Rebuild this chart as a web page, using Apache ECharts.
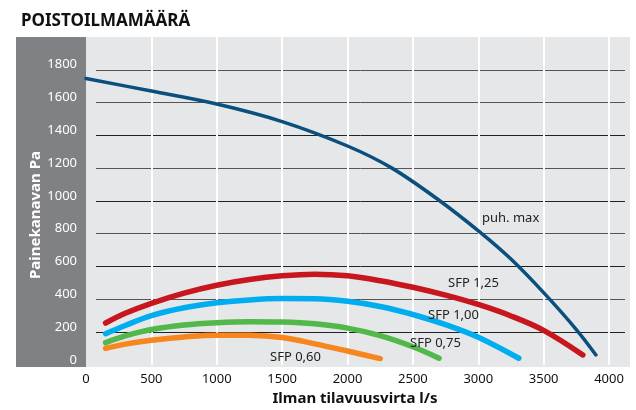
<!DOCTYPE html>
<html>
<head>
<meta charset="utf-8">
<script src="https://cdn.jsdelivr.net/npm/echarts@6/dist/echarts.min.js"></script>
<style>html,body{margin:0;padding:0;background:#fff}#c{width:636px;height:410px}</style>
</head>
<body>
<div id="c"></div>
<script>
const xTicks = [0, 500, 1000, 1500, 2000, 2500, 3000, 3500, 4000];
const yTicks = [0, 200, 400, 600, 800, 1000, 1200, 1400, 1600, 1800];
const puhMax = [[0,1747],[500,1670],[1000,1591],[1500,1484],[2000,1335],[2340,1200],[2700,1004],[3020,805],[3250,645],[3500,440],[3750,215],[3900,60]];
const sfp125 = [[150,255],[300,314],[500,375],[750,437],[1000,485],[1250,520],[1500,543],[1750,553],[2000,543],[2250,513],[2500,473],[2750,425],[3000,368],[3250,298],[3500,210],[3800,60]];
const sfp100 = [[150,190],[300,240],[500,300],[750,348],[1000,378],[1250,396],[1500,404],[1750,403],[2000,388],[2250,356],[2500,307],[2750,245],[3000,168],[3310,40]];
const sfp075 = [[150,135],[300,176],[500,215],[750,243],[1000,257],[1250,263],[1500,261],[1750,250],[2000,224],[2250,178],[2500,110],[2700,40]];
const sfp060 = [[150,100],[300,126],[500,150],[750,170],[1000,181],[1250,180],[1500,166],[1750,128],[2000,84],[2250,38]];
const seriesNames = ['SFP 0,60','SFP 0,75','SFP 1,00','SFP 1,25','puh. max'];

const FONT = 'Noto Sans';
const chart = echarts.init(document.getElementById('c'), null, {renderer:'canvas'});
const hLineColors = ['transparent','#222','#555','#222','#555','#222','#555','#222','#555','#555','transparent'];
const vLineColors = ['transparent','#fff','#fff','#fff','#fff','#fff','#fff','#fff','#fff'];
function line(name, data, color, width, z){
  return {type:'line', name, data, smooth:0.35, showSymbol:false, symbol:'none', xAxisIndex:0, yAxisIndex:0, z,
    lineStyle:{color, width, cap:'round', join:'round'}};
}
chart.setOption({
  animation:false,
  textStyle:{fontFamily:FONT},
  title:{text:'POISTOILMAMÄÄRÄ', left:16, top:8, textStyle:{fontFamily:FONT, fontSize:17, fontWeight:'bold', color:'#111'}},
  graphic:[
    {type:'rect', z:-10, shape:{x:16, y:37, width:70, height:330}, style:{fill:'#808184'}},
    {type:'rect', z:-10, shape:{x:86, y:37, width:544, height:330}, style:{fill:'#e6e7e8'}},
    {type:'text', z:10, x:36, y:215, rotation:Math.PI/2, style:{text:'Painekanavan Pa', fill:'#fff', font:'bold 15px "Noto Sans"', textAlign:'center', textVerticalAlign:'middle'}},
    {type:'text', z:10, x:355, y:399, style:{text:'Ilman tilavuusvirta l/s', fill:'#111', font:'bold 15px "Noto Sans"', textAlign:'center', textVerticalAlign:'middle'}},
    {type:'text', z:10, x:482, y:218, style:{text:seriesNames[4], fill:'#222', font:'13px "Noto Sans"', textAlign:'left', textVerticalAlign:'middle'}},
    {type:'text', z:10, x:448, y:283, style:{text:seriesNames[3], fill:'#222', font:'13px "Noto Sans"', textAlign:'left', textVerticalAlign:'middle'}},
    {type:'text', z:10, x:428, y:315, style:{text:seriesNames[2], fill:'#222', font:'13px "Noto Sans"', textAlign:'left', textVerticalAlign:'middle'}},
    {type:'text', z:10, x:410, y:343, style:{text:seriesNames[1], fill:'#222', font:'13px "Noto Sans"', textAlign:'left', textVerticalAlign:'middle'}},
    {type:'text', z:10, x:270, y:357, style:{text:seriesNames[0], fill:'#222', font:'13px "Noto Sans"', textAlign:'left', textVerticalAlign:'middle'}}
  ],
  grid:[
    {left:86, right:27, top:37, bottom:45.2},
    {left:96, right:11, top:37, bottom:45.2}
  ],
  xAxis:[
    {type:'value', gridIndex:0, min:0, max:4000, interval:500,
     axisLine:{show:false}, axisTick:{show:false},
     axisLabel:{color:'#111', fontSize:13, fontFamily:FONT, margin:8, formatter:v=>xTicks.includes(v)?String(v):''},
     splitLine:{show:true, lineStyle:{color:vLineColors, width:2}}},
    {type:'value', gridIndex:1, min:0, max:4000, show:false, splitLine:{show:false}}
  ],
  yAxis:[
    {type:'value', gridIndex:0, min:0, max:2000, interval:200,
     axisLine:{show:false}, axisTick:{show:false}, splitLine:{show:false},
     axisLabel:{color:'#fff', fontSize:13, fontFamily:FONT, margin:9, verticalAlign:'bottom', lineHeight:10, formatter:v=>yTicks.includes(v)?String(v):''}},
    {type:'value', gridIndex:1, min:0, max:2000, interval:200,
     axisLine:{show:false}, axisTick:{show:false}, axisLabel:{show:false},
     splitLine:{show:true, lineStyle:{color:hLineColors, width:1}}}
  ],
  series:[
    line(seriesNames[0], sfp060, '#f7861f', 5.5, 2),
    line(seriesNames[1], sfp075, '#52b849', 5.5, 3),
    line(seriesNames[2], sfp100, '#00aeef', 5.5, 4),
    line(seriesNames[3], sfp125, '#c8161e', 5.5, 5),
    line(seriesNames[4], puhMax, '#0b4f7f', 3.5, 6)
  ]
});
</script>
</body>
</html>
